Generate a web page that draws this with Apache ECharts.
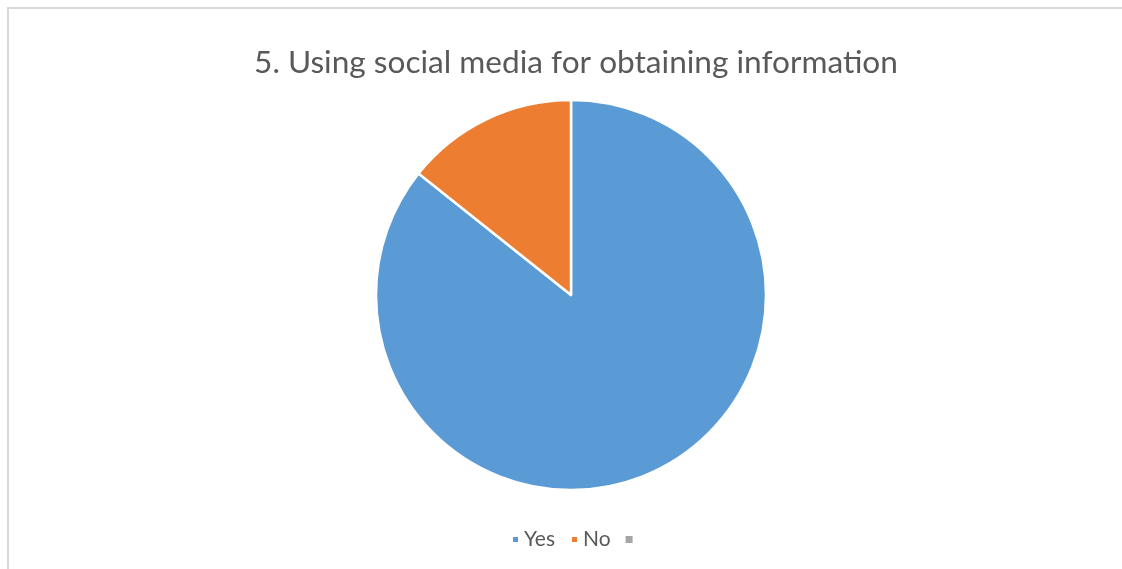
<!DOCTYPE html>
<html>
<head>
<meta charset="utf-8">
<script src="https://cdn.jsdelivr.net/npm/echarts@6/dist/echarts.min.js"></script>
<style>
  html, body { margin: 0; padding: 0; background: #fff; }
  #frame { position: absolute; left: 7px; top: 7px; width: 1130px; height: 580px;
           border-left: 2px solid #d9d9d9; border-top: 2px solid #d9d9d9; box-sizing: border-box; }
  #chart { position: absolute; left: 0; top: 0; width: 1122px; height: 569px; }
</style>
</head>
<body>
<div id="frame"></div>
<div id="chart"></div>
<script>
// Survey answers: share of respondents using social media to obtain information
const titleText = '5. Using social media for obtaining information';
const categories = ['Yes', 'No', ' '];
const answerCounts = [30, 5, 0];
const sliceColors = ['#5b9bd5', '#ed7d31', '#a5a5a5'];

const pieData = categories.map((name, i) => ({
  name: name,
  value: answerCounts[i],
  itemStyle: { color: sliceColors[i], borderWidth: answerCounts[i] === 0 ? 0 : 2.5 }
}));

const chart = echarts.init(document.getElementById('chart'), null, { renderer: 'canvas' });
chart.setOption({
  animation: false,
  backgroundColor: 'transparent',
  title: {
    text: titleText,
    left: 571,
    top: 42,
    textAlign: 'center',
    textStyle: { fontFamily: 'Lato', fontWeight: 'normal', fontSize: 31.6, color: '#595959' }
  },
  legend: {
    data: categories,
    bottom: 19,
    left: 511,
    padding: 0,
    icon: 'rect',
    itemWidth: 7,
    itemHeight: 7,
    itemGap: 15,
    textStyle: { fontFamily: 'Lato', fontSize: 21, color: '#595959' }
  },
  series: [{
    type: 'pie',
    center: [571, 295],
    radius: 195,
    startAngle: 90,
    clockwise: true,
    label: { show: false },
    labelLine: { show: false },
    emphasis: { disabled: true },
    itemStyle: { borderColor: '#ffffff' },
    data: pieData
  }]
});
</script>
</body>
</html>
